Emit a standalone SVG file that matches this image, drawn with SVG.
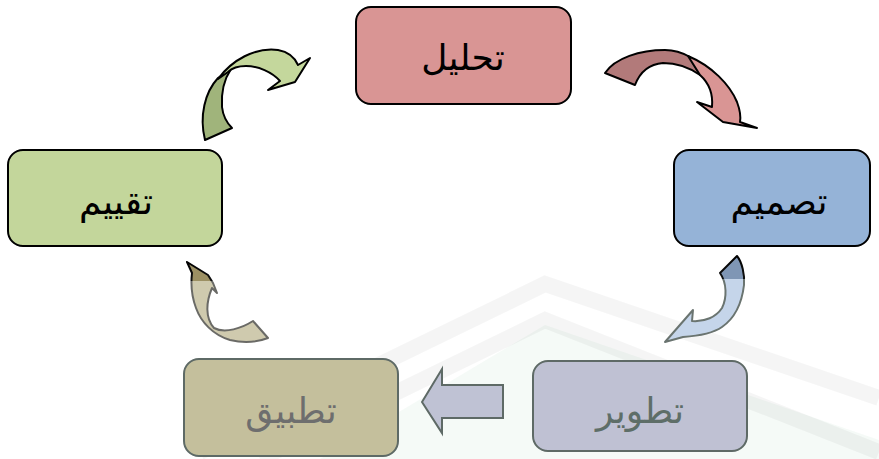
<svg xmlns="http://www.w3.org/2000/svg" width="879" height="459" viewBox="0 0 879 459">
<style>
.box{stroke:#000;stroke-width:2}
.fade{stroke:#5e6a66;stroke-width:2}
.lbl{font-family:"DejaVu Sans","Noto Sans",sans-serif;font-size:36px;text-anchor:middle}
.arr{stroke:#000;stroke-width:2;stroke-linejoin:round}
.wm{fill:none;stroke:#000;stroke-opacity:0.04;stroke-width:16}
</style>
<defs>
<linearGradient id="gBlue" gradientUnits="userSpaceOnUse" x1="0" y1="256" x2="0" y2="343">
<stop offset="0" stop-color="#7f96b5"/><stop offset="0.27" stop-color="#7f96b5"/>
<stop offset="0.27" stop-color="#c5d5ea"/><stop offset="1" stop-color="#c5d5ea"/>
</linearGradient>
<linearGradient id="sBlue" gradientUnits="userSpaceOnUse" x1="0" y1="256" x2="0" y2="343">
<stop offset="0" stop-color="#000"/><stop offset="0.27" stop-color="#111"/>
<stop offset="0.27" stop-color="#6a7470"/><stop offset="1" stop-color="#6a7470"/>
</linearGradient>
<linearGradient id="gBrown" gradientUnits="userSpaceOnUse" x1="0" y1="262" x2="0" y2="343">
<stop offset="0" stop-color="#9c9063"/><stop offset="0.23" stop-color="#9c9063"/>
<stop offset="0.23" stop-color="#cfcaae"/><stop offset="1" stop-color="#cfcaae"/>
</linearGradient>
<linearGradient id="sBrown" gradientUnits="userSpaceOnUse" x1="0" y1="262" x2="0" y2="343">
<stop offset="0" stop-color="#000"/><stop offset="0.23" stop-color="#111"/>
<stop offset="0.23" stop-color="#6a6a66"/><stop offset="1" stop-color="#6a6a66"/>
</linearGradient>
</defs>
<rect width="879" height="459" fill="#fff"/>
<g id="watermark">
<polygon points="320,459 545,325 879,440 879,459" fill="#e6f3ea" fill-opacity="0.4"/>
<polyline class="wm" points="200,452 545,284 879,398"/>
<polyline class="wm" points="260,459 545,320 879,452"/>
</g>
<g id="connectors">
<path d="M205,140 C199,116 205,92 218,78 L231,69 C225,78 221,92 222,107 C223,116 226,122 232,128 Z" class="arr" fill="#a0b47b"/>
<path d="M218,79 C232,60 255,47 278,50 C289,52 295,58 298,65 L310,58 L295,82 L268,90 L280,81 C272,72 258,66 246,66 C238,66 232,68 228,72 Z" class="arr" fill="#c4d79c"/>
<path d="M605,73 C615,58 640,50 665,50 C675,50 683,53 690,57 L700,75 C690,68 676,63 663,63 C650,64 640,72 635,85 Z" class="arr" fill="#b27a7a"/>
<path d="M688,56 C712,66 730,85 737,102 C740,110 741,116 740,122 L757,128 L723,122 L697,102 L712,107 C713,96 710,84 700,75 Z" class="arr" fill="#d99594"/>
<path d="M720,273 L737,256 C742,262 745,275 744,285 C742,302 735,318 722,327 C712,334 698,336 683,337 L665,342 L693,310 L692,321 C705,322 716,317 722,308 C727,298 727,283 720,273 Z" fill="url(#gBlue)" stroke="url(#sBlue)" stroke-width="2" stroke-linejoin="round"/>
<path d="M187,262 L208,275 L213,283 L217,293 L212,288 C206,302 205,318 214,328 C225,334 242,328 253,321 L268,338 C255,343 242,343 230,340 C213,335 201,322 196,308 C191,295 191,282 192,273 Z" fill="url(#gBrown)" stroke="url(#sBrown)" stroke-width="2" stroke-linejoin="round"/>
<polygon points="422,402 442,369 442,385 503,385 503,418 442,418 442,433" fill="#bfc2d4" class="fade" stroke-linejoin="miter"/>
</g>
<g id="node-tahlil">
<rect x="356" y="7" width="215" height="97" rx="15" class="box" fill="#d99594"/>
<text x="463" y="70" class="lbl" fill="#000">تحليل</text>
</g>
<g id="node-tasmim">
<rect x="674" y="150" width="196" height="96" rx="15" class="box" fill="#95b3d7"/>
<text x="779" y="214" class="lbl" fill="#000">تصميم</text>
</g>
<g id="node-tathwir">
<rect x="533" y="361" width="214" height="90" rx="15" class="fade" fill="#bfc1d3"/>
<text x="640" y="423" class="lbl" fill="#5e6e68">تطوير</text>
</g>
<g id="node-tathbiq">
<rect x="184" y="359" width="214" height="97" rx="15" class="fade" fill="#c4bf9c"/>
<text x="291" y="423" class="lbl" fill="#6e6e6e">تطبيق</text>
</g>
<g id="node-taqyim">
<rect x="8" y="150" width="214" height="96" rx="15" class="box" fill="#c3d69b"/>
<text x="116" y="214" class="lbl" fill="#000">تقييم</text>
</g>
</svg>
